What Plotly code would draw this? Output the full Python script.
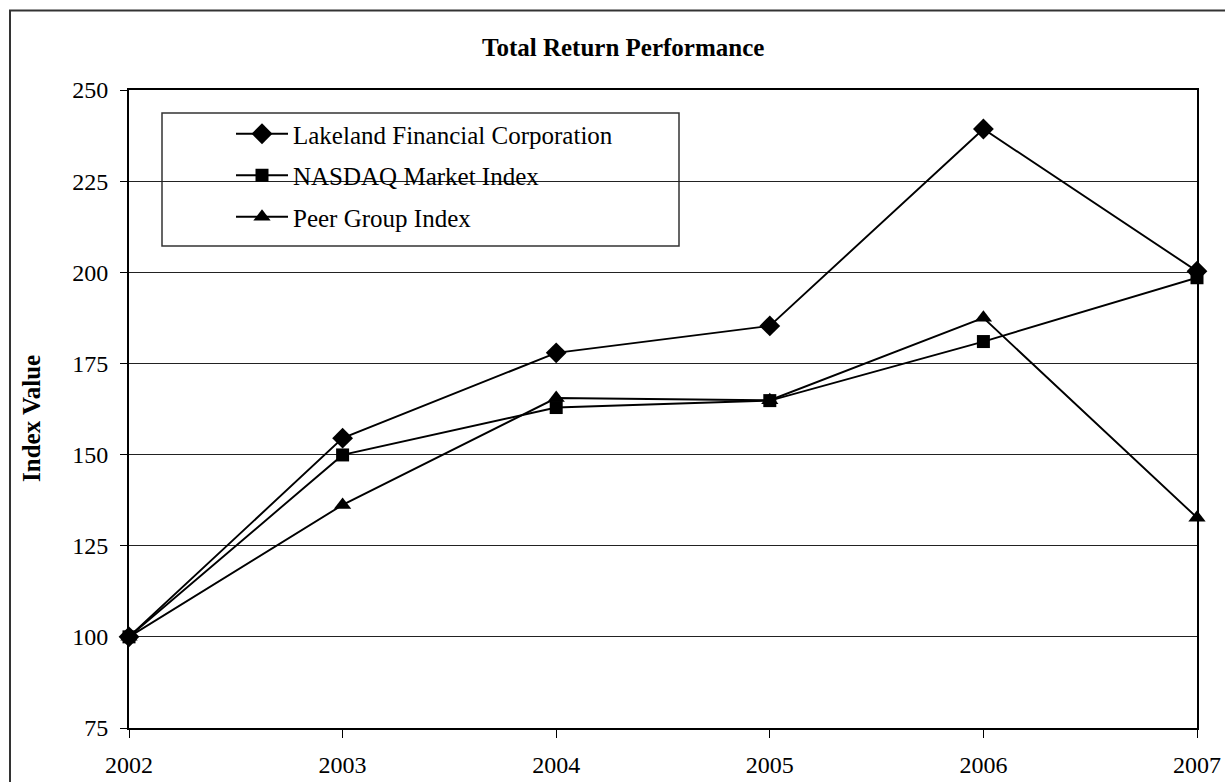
import plotly.graph_objects as go

years = [2002, 2003, 2004, 2005, 2006, 2007]
lakeland = [100, 154.5, 177.9, 185.3, 239.3, 200.3]
nasdaq = [100, 149.9, 162.9, 164.8, 181.0, 198.5]
peer = [100, 136.2, 165.5, 164.9, 187.5, 132.7]

series_names = ["Lakeland Financial Corporation", "NASDAQ Market Index", "Peer Group Index"]
y_ticks = [75, 100, 125, 150, 175, 200, 225, 250]

FONT = "Liberation Serif, Times New Roman, serif"

W, H = 1225, 782
L, R, T, B = 129, 28, 90, 54
PW, PH = W - L - R, H - T - B


def px_x(p):
    return (p - L) / PW


def px_y(p):
    return (H - B - p) / PH


fig = go.Figure()
specs = [
    (lakeland, "diamond", 16),
    (nasdaq, "square", 13),
    (peer, "triangle-up", 15),
]
for i, (vals, sym, sz) in enumerate(specs):
    fig.add_trace(go.Scatter(
        x=years, y=vals, name=series_names[i], mode="lines+markers",
        line=dict(color="black", width=1.9),
        marker=dict(symbol=sym, size=sz, color="black"),
        cliponaxis=False, legendgroup=f"g{i}",
    ))

fig.update_layout(
    width=W, height=H,
    margin=dict(l=L, r=R, t=T, b=B, autoexpand=False),
    paper_bgcolor="white", plot_bgcolor="white",
    font=dict(family=FONT, size=24, color="black"),
    showlegend=True,
    legend=dict(
        x=px_x(231), y=px_y(111), xanchor="left", yanchor="top",
        bgcolor="rgba(0,0,0,0)", borderwidth=0,
        font=dict(family=FONT, size=25, color="black"),
        tracegroupgap=6, itemwidth=52,
    ),
    xaxis=dict(
        range=[2002, 2007], tickmode="array", tickvals=years,
        ticktext=[str(y) for y in years],
        showgrid=False, showline=True, linecolor="black", linewidth=2,
        mirror=True, ticks="outside", ticklen=8, tickwidth=1, tickcolor="black",
        ticklabelstandoff=6, zeroline=False,
        tickfont=dict(family=FONT, size=24),
    ),
    yaxis=dict(
        range=[75, 250], tickmode="array", tickvals=y_ticks,
        showgrid=True, gridcolor="#222222", gridwidth=1,
        showline=True, linecolor="black", linewidth=2, mirror=True,
        ticks="outside", ticklen=7, tickwidth=1, tickcolor="black",
        ticklabelstandoff=7, zeroline=False,
        tickfont=dict(family=FONT, size=24),
    ),
    shapes=[
        dict(type="rect", xref="paper", yref="paper",
             x0=px_x(162), x1=px_x(679), y0=px_y(246), y1=px_y(113),
             fillcolor="white", line=dict(color="#333333", width=1.5),
             layer="between"),
        dict(type="rect", xref="paper", yref="paper",
             x0=px_x(10), x1=px_x(1240), y0=px_y(800), y1=px_y(10.5),
             fillcolor="rgba(0,0,0,0)", line=dict(color="#333333", width=2),
             layer="above"),
    ],
    annotations=[
        dict(text="<b>Total Return Performance</b>", xref="paper", yref="paper",
             x=px_x(623), y=px_y(48), xanchor="center", yanchor="middle",
             showarrow=False, font=dict(family=FONT, size=25, color="black")),
        dict(text="<b>Index Value</b>", xref="paper", yref="paper",
             x=px_x(31), y=px_y(419), xanchor="center", yanchor="middle",
             textangle=-90, showarrow=False,
             font=dict(family=FONT, size=25, color="black")),
    ],
)

fig.write_html("out.html", config={"displayModeBar": False},
               post_script="document.body.style.margin='0px';")
